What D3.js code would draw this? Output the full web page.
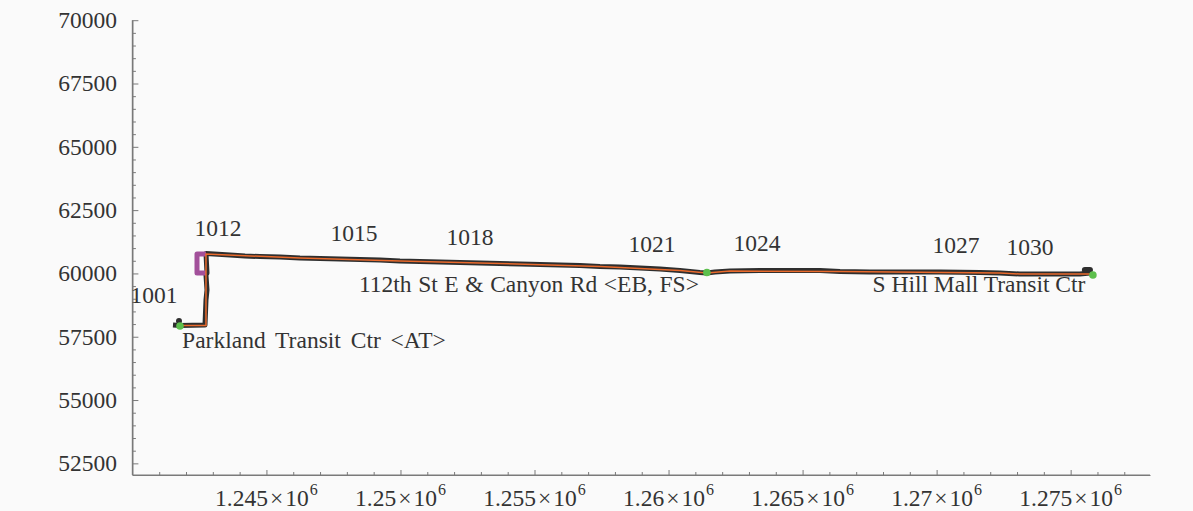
<!DOCTYPE html>
<html>
<head>
<meta charset="utf-8">
<script src="https://cdn.jsdelivr.net/npm/d3@7"></script>
<style>
  html, body { margin: 0; padding: 0; background: #fafafa; }
  svg { display: block; }
</style>
</head>
<body>
<svg id="chart" width="1193" height="511" font-family="'Liberation Serif', 'Times New Roman', Times, 'DejaVu Serif', serif"></svg>
<script>
// Recorded vehicle trace (easting, northing)
const traceX = [1241514, 1241775, 1242708, 1242745, 1242783, 1242745, 1242783, 1242745,
  1243640, 1244200, 1244760, 1245505, 1246250, 1247000, 1247745, 1248490, 1249235, 1249980,
  1250725, 1251475, 1252220, 1252965, 1253710, 1254455, 1255205, 1255950, 1256695, 1257440,
  1258185, 1258935, 1259680, 1260425, 1261170, 1261430, 1261730, 1262290, 1263410, 1264530,
  1265650, 1266395, 1267510, 1268630, 1270125, 1271615, 1272360, 1273105, 1274225, 1275345, 1275720];
const traceY = [57962, 57942, 57962, 58949, 59344, 59936, 60015, 60785,
  60726, 60687, 60667, 60647, 60608, 60588, 60568, 60548, 60529, 60489,
  60469, 60450, 60430, 60410, 60390, 60371, 60351, 60331, 60311, 60272,
  60252, 60213, 60173, 60114, 60035, 60015, 60055, 60094, 60114, 60114,
  60114, 60074, 60055, 60055, 60055, 60035, 60015, 59976, 59976, 59976, 60015];

// Scheduled route geometry
const routeX = [1241775, 1242745, 1242745, 1246250, 1249980, 1253710, 1257440, 1260425,
  1261430, 1262290, 1266395, 1272360, 1273105, 1275830];
const routeY = [57942, 57942, 60766, 60608, 60489, 60390, 60272, 60114,
  60015, 60094, 60074, 60015, 59976, 59976];

// Layover loop at the first timepoint
const loopX = [1242745, 1242410, 1242410, 1242745];
const loopY = [60015, 60015, 60766, 60766];

// Timepoint stops
const stopX = [1241775, 1261430, 1275830];
const stopY = [57922, 60035, 59936];
const stopNames = ["Parkland Transit Ctr <AT>", "112th St E & Canyon Rd <EB, FS>", "S Hill Mall Transit Ctr"];
const stopNameX = [1246774, 1254793, 1271578];
const stopNameY = [57369, 59581, 59581];

// Trip sample labels
const sampleIds = ["1001", "1012", "1015", "1018", "1021", "1024", "1027", "1030"];
const sampleX = [1240806, 1243193, 1248266, 1252592, 1259381, 1263298, 1270720, 1273480];
const sampleY = [59146, 61792, 61595, 61437, 61160, 61200, 61121, 61042];

// Trace endpoints
const endX = [1241738, 1275530, 1275720];
const endY = [58120, 60134, 60134];

// Axis ticks
const xMajor = [1245000, 1250000, 1255000, 1260000, 1265000, 1270000, 1275000];
const xMajorLabels = ["1.245", "1.25", "1.255", "1.26", "1.265", "1.27", "1.275"];
const yMajor = [52500, 55000, 57500, 60000, 62500, 65000, 67500, 70000];

const svg = d3.select("#chart");
const x = d3.scaleLinear().domain([1240000, 1277960]).range([132.4, 1150]);
const y = d3.scaleLinear().domain([52040, 70000]).range([475, 20.2]);

const axisColor = "#7a7a7a";
const textColor = "#333";
const nameSpacing = [4, 0.7, 0];

// minor tick positions
const xMinor = d3.range(1241000, 1277960, 1000).filter(v => v % 5000 !== 0);
const yMinor = d3.range(52500, 70001, 500).filter(v => v % 2500 !== 0);

// x axis
const gx = svg.append("g").attr("transform", `translate(0,${y(52040)})`);
gx.call(d3.axisBottom(x).tickValues(xMajor).tickSizeInner(-5).tickSizeOuter(0).tickFormat(""));
gx.append("g").call(d3.axisBottom(x).tickValues(xMinor).tickSizeInner(-3).tickSizeOuter(0).tickFormat(""));
gx.selectAll(".domain").attr("stroke", axisColor).attr("stroke-width", 1.2);
gx.selectAll(".tick line").attr("stroke", axisColor);
gx.select(".domain").attr("d", `M${x.range()[0]},0H${x.range()[1]}`);

// y axis
const gy = svg.append("g").attr("transform", `translate(${x(1240000)},0)`);
gy.call(d3.axisLeft(y).tickValues(yMajor).tickSizeInner(-6).tickSizeOuter(0).tickFormat(""));
gy.append("g").call(d3.axisLeft(y).tickValues(yMinor).tickSizeInner(-3.5).tickSizeOuter(0).tickFormat(""));
gy.selectAll(".domain").attr("stroke", axisColor).attr("stroke-width", 1.2);
gy.selectAll(".tick line").attr("stroke", axisColor);
gy.select(".domain").attr("d", `M0,${y(70000)}V${y(52040)}`);

// y tick labels
svg.append("g").selectAll("text").data(yMajor).join("text")
  .attr("x", 117).attr("y", d => y(d))
  .attr("dy", "0.34em")
  .attr("text-anchor", "end")
  .attr("font-size", 23.5)
  .attr("fill", textColor)
  .text(d => d);

// x tick labels in scientific form
const xl = svg.append("g").selectAll("text").data(xMajor).join("text")
  .attr("x", d => x(d)).attr("y", 506)
  .attr("text-anchor", "middle")
  .attr("font-size", 23.5)
  .attr("fill", textColor);
xl.append("tspan").text((d, i) => xMajorLabels[i]);
xl.append("tspan").attr("dx", 2).text("\u00d7");
xl.append("tspan").attr("dx", 2).text("10");
xl.append("tspan").attr("dy", -11).attr("dx", 1).attr("font-size", 16).text("6");

const line = d3.line().x(d => x(d[0])).y(d => y(d[1]));

// recorded trace
const trace = traceX.map((v, i) => [v, traceY[i]]);
svg.append("path").datum(trace)
  .attr("d", line)
  .attr("fill", "none")
  .attr("stroke", "#2e2e2e")
  .attr("stroke-width", 5)
  .attr("stroke-linejoin", "round");

// layover loop
svg.append("path").datum(loopX.map((v, i) => [v, loopY[i]]))
  .attr("d", line)
  .attr("fill", "none")
  .attr("stroke", "#a2509a")
  .attr("stroke-width", 5)
  .attr("stroke-linejoin", "round");

// route
svg.append("path").datum(routeX.map((v, i) => [v, routeY[i]]))
  .attr("d", line)
  .attr("fill", "none")
  .attr("stroke", "#ea6a2c")
  .attr("stroke-width", 1.5);

// trace end markers
svg.append("circle").attr("cx", x(endX[0])).attr("cy", y(endY[0])).attr("r", 3).attr("fill", "#2e2e2e");
svg.append("line")
  .attr("x1", x(endX[1])).attr("y1", y(endY[1]))
  .attr("x2", x(endX[2])).attr("y2", y(endY[2]))
  .attr("stroke", "#2e2e2e").attr("stroke-width", 6).attr("stroke-linecap", "round");

// timepoint stops
svg.append("g").selectAll("circle").data(stopX).join("circle")
  .attr("cx", d => x(d)).attr("cy", (d, i) => y(stopY[i]))
  .attr("r", 3.8).attr("fill", "#5cbf4c");

svg.append("g").selectAll("text").data(stopNames).join("text")
  .attr("x", (d, i) => x(stopNameX[i])).attr("y", (d, i) => y(stopNameY[i]))
  .attr("dy", "0.34em")
  .attr("text-anchor", "middle")
  .attr("font-size", 23.5)
  .attr("word-spacing", (d, i) => nameSpacing[i])
  .attr("fill", textColor)
  .text(d => d);

// sample labels
svg.append("g").selectAll("text").data(sampleIds).join("text")
  .attr("x", (d, i) => x(sampleX[i])).attr("y", (d, i) => y(sampleY[i]))
  .attr("dy", "0.34em")
  .attr("text-anchor", "middle")
  .attr("font-size", 23.5)
  .attr("fill", textColor)
  .text(d => d);
</script>
</body>
</html>
